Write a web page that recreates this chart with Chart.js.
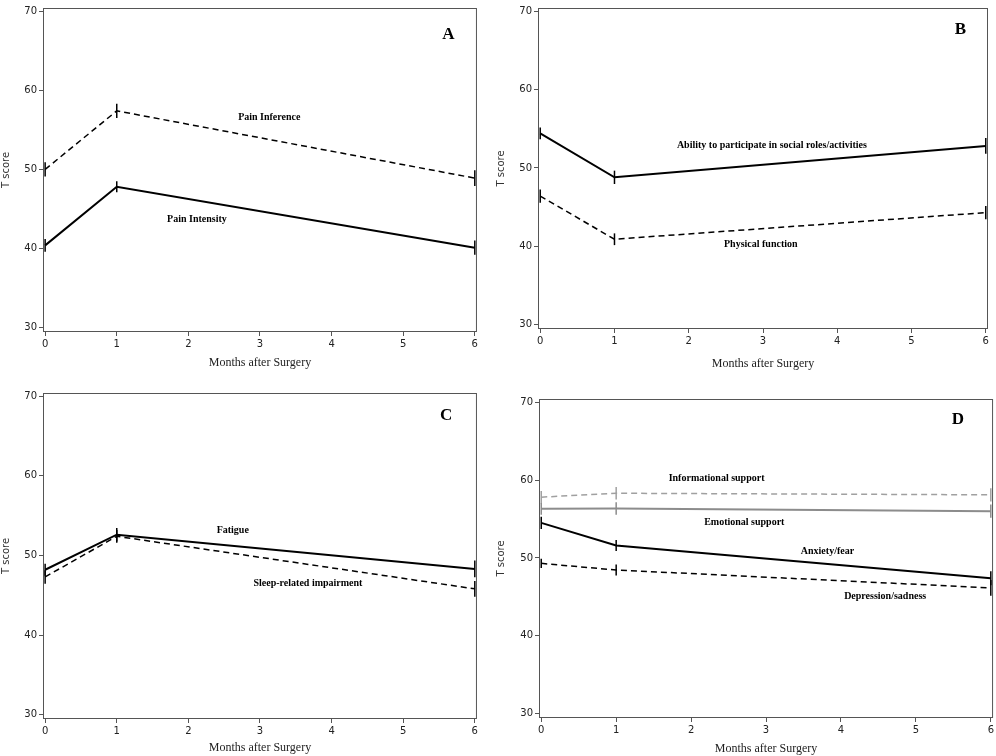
<!DOCTYPE html>
<html lang="en">
<head>
<meta charset="UTF-8">
<title>T scores after surgery</title>
<script src="https://cdn.jsdelivr.net/npm/chart.js"></script>
<style>
  body { margin: 0; background: #fff; }
  #wrap { position: relative; width: 996px; height: 756px; overflow: hidden; }
  canvas { position: absolute; }
</style>
</head>
<body>
<div id="wrap">
  <canvas id="chartA" width="480" height="376" style="left:0;top:0"></canvas>
  <canvas id="chartB" width="506" height="376" style="left:490px;top:0"></canvas>
  <canvas id="chartC" width="480" height="376" style="left:0;top:380px"></canvas>
  <canvas id="chartD" width="506" height="376" style="left:490px;top:380px"></canvas>
</div>

<script>
// time points and axis ticks
var months = [0, 1, 6];
var xTicks = [0, 1, 2, 3, 4, 5, 6];
var yTicks = [30, 40, 50, 60, 70];

// A - pain
var painInference = [50.0, 57.4, 48.9];
var painInferenceErr = [0.9, 0.9, 1.0];
var painIntensity = [40.4, 47.8, 40.1];
var painIntensityErr = [0.8, 0.7, 0.9];

// B - function
var socialRoles = [54.4, 48.8, 52.8];
var socialRolesErr = [0.75, 0.85, 1.0];
var physicalFunction = [46.4, 40.9, 44.3];
var physicalFunctionErr = [0.85, 0.75, 0.85];

// C - fatigue / sleep
var fatigue = [48.2, 52.6, 48.3];
var fatigueErr = [0.75, 0.85, 1.05];
var sleepImpairment = [47.3, 52.4, 45.8];
var sleepImpairmentErr = [0.85, 0.8, 1.0];

// D - emotional health / support
var informational = [57.8, 58.3, 58.1];
var informationalErr = [0.8, 0.8, 0.85];
var emotional = [56.3, 56.35, 56.0];
var emotionalErr = [0.75, 0.8, 0.85];
var anxiety = [54.5, 51.6, 47.4];
var anxietyErr = [0.8, 0.7, 0.9];
var depression = [49.3, 48.45, 46.15];
var depressionErr = [0.6, 0.7, 1.0];

function pts(vals) {
  return months.map(function(m, i) { return { x: m, y: vals[i] }; });
}

function line(vals, err, color, dashed) {
  return {
    data: pts(vals),
    err: err,
    borderColor: color,
    borderWidth: dashed ? 1.5 : 2,
    borderDash: dashed ? [6, 4] : [],
    pointRadius: 0,
    fill: false,
    tension: 0
  };
}

// error bars, frame and in-plot text
var panelDecor = {
  id: 'panelDecor',
  afterDatasetsDraw: function(chart, args, opts) {
    var ctx = chart.ctx;
    var xs = chart.scales.x, ys = chart.scales.y, a = chart.chartArea;
    ctx.save();
    ctx.setLineDash([]);
    chart.data.datasets.forEach(function(ds) {
      ctx.strokeStyle = ds.borderColor;
      ctx.lineWidth = 1.5;
      ds.data.forEach(function(p, i) {
        var px = xs.getPixelForValue(p.x);
        ctx.beginPath();
        ctx.moveTo(px, ys.getPixelForValue(p.y - ds.err[i]));
        ctx.lineTo(px, ys.getPixelForValue(p.y + ds.err[i]));
        ctx.stroke();
      });
    });
    ctx.strokeStyle = '#555';
    ctx.lineWidth = 1;
    ctx.strokeRect(a.left + 0.5, a.top + 0.5, a.right - a.left - 1, a.bottom - a.top - 1);

    ctx.fillStyle = '#000';
    ctx.textAlign = 'center';
    ctx.textBaseline = 'middle';
    ctx.font = 'bold 10px "Liberation Serif"';
    opts.labels.forEach(function(l) {
      ctx.fillText(l.text, xs.getPixelForValue(l.x), ys.getPixelForValue(l.y));
    });
    ctx.font = 'bold 17px "Liberation Serif"';
    ctx.fillText(opts.letter.text, xs.getPixelForValue(opts.letter.x), ys.getPixelForValue(opts.letter.y));
    ctx.restore();
  }
};

function makeChart(id, datasets, lay, labels, letter) {
  return new Chart(document.getElementById(id), {
    type: 'line',
    data: { datasets: datasets },
    options: {
      responsive: false,
      animation: false,
      layout: { padding: { top: lay.top, right: lay.right, left: 0, bottom: 0 } },
      plugins: {
        legend: { display: false },
        tooltip: { enabled: false },
        panelDecor: { labels: labels, letter: letter }
      },
      scales: {
        x: {
          type: 'linear', min: -0.03, max: 6.03,
          afterBuildTicks: function(s) { s.ticks = xTicks.map(function(v) { return { value: v }; }); },
          afterFit: function(s) { s.height = lay.xh; },
          grid: { display: true, drawOnChartArea: false, drawTicks: true, tickLength: 4, color: '#555' },
          border: { display: false },
          ticks: { font: { family: 'DejaVu Sans', size: 10 }, color: '#222', padding: 2, maxRotation: 0 },
          title: { display: true, text: 'Months after Surgery', color: '#222',
                   font: { family: 'Liberation Serif', size: 12 }, padding: { top: 0, bottom: lay.xpad } }
        },
        y: {
          type: 'linear', min: 29.45, max: 70.4,
          afterBuildTicks: function(s) { s.ticks = yTicks.map(function(v) { return { value: v }; }); },
          afterFit: function(s) { s.width = lay.yw; },
          grid: { display: true, drawOnChartArea: false, drawTicks: true, tickLength: 4, color: '#555' },
          border: { display: false },
          ticks: { font: { family: 'DejaVu Sans', size: 10 }, color: '#222', padding: 2 },
          title: { display: true, text: 'T score', color: '#333',
                   font: { family: 'DejaVu Sans', size: 10 }, padding: { top: lay.ypad, bottom: 0 } }
        }
      }
    },
    plugins: [panelDecor]
  });
}

makeChart('chartA',
  [line(painInference, painInferenceErr, '#000', true), line(painIntensity, painIntensityErr, '#000', false)],
  { top: 2, right: 3, yw: 43, xh: 44, xpad: 6, ypad: 0 },
  [{ text: 'Pain Inference', x: 3.13, y: 56.6 }, { text: 'Pain Intensity', x: 2.12, y: 43.7 }],
  { text: 'A', x: 5.63, y: 67.1 });

makeChart('chartB',
  [line(socialRoles, socialRolesErr, '#000', false), line(physicalFunction, physicalFunctionErr, '#000', true)],
  { top: 3, right: 8, yw: 48, xh: 47, xpad: 5, ypad: 5 },
  [{ text: 'Ability to participate in social roles/activities', x: 3.12, y: 52.9 },
   { text: 'Physical function', x: 2.97, y: 40.3 }],
  { text: 'B', x: 5.66, y: 67.6 });

makeChart('chartC',
  [line(fatigue, fatigueErr, '#000', false), line(sleepImpairment, sleepImpairmentErr, '#000', true)],
  { top: 13, right: 3, yw: 43, xh: 37, xpad: 1, ypad: 0 },
  [{ text: 'Fatigue', x: 2.62, y: 53.2 }, { text: 'Sleep-related impairment', x: 3.67, y: 46.5 }],
  { text: 'C', x: 5.6, y: 67.5 });

makeChart('chartD',
  [line(informational, informationalErr, '#a0a0a0', true), line(emotional, emotionalErr, '#8c8c8c', false),
   line(anxiety, anxietyErr, '#000', false), line(depression, depressionErr, '#000', true)],
  { top: 19, right: 2, yw: 49, xh: 38, xpad: 0, ypad: 5 },
  [{ text: 'Informational support', x: 2.34, y: 60.2 }, { text: 'Emotional support', x: 2.71, y: 54.5 },
   { text: 'Anxiety/fear', x: 3.82, y: 50.8 }, { text: 'Depression/sadness', x: 4.59, y: 45.0 }],
  { text: 'D', x: 5.56, y: 67.7 });
</script>
</body>
</html>
